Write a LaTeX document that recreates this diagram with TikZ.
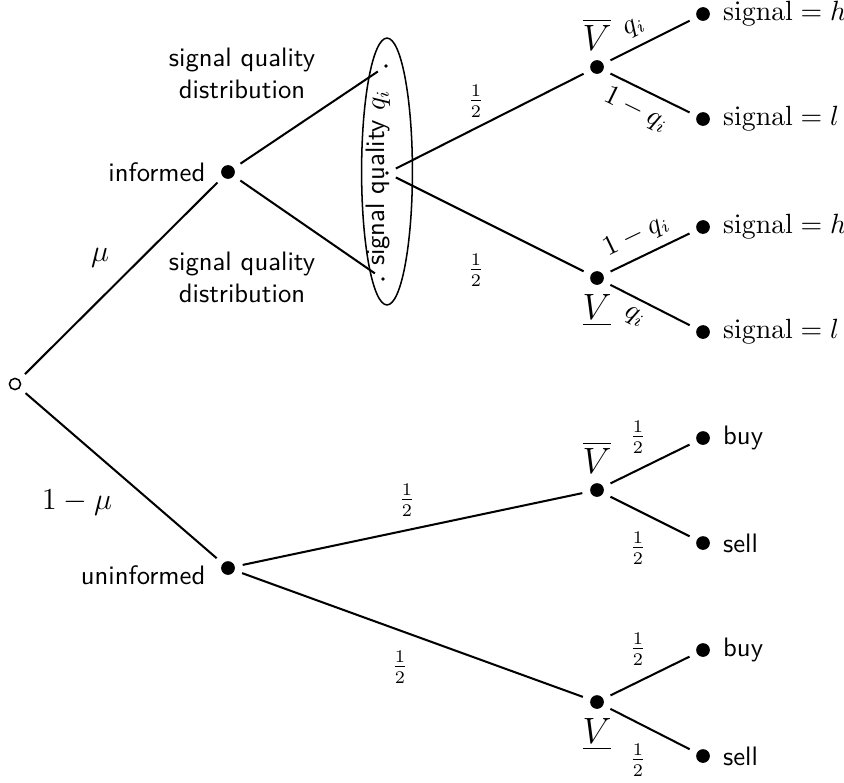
\documentclass[tikz,border=0pt]{standalone}
\usepackage{amsmath,amssymb}
\usetikzlibrary{shapes.geometric}

\begin{document}
\begin{tikzpicture}[x=1.383cm,y=-1.383cm,font=\sffamily\fontsize{10.5}{12.6}\selectfont,
  dot/.style={circle,fill,inner sep=0pt,minimum size=5.4pt},
  tiny/.style={circle,fill,inner sep=0pt,minimum size=1.4pt},
  start/.style={circle,draw,semithick,inner sep=0pt,minimum size=4.4pt},
  branch/.style={thick,shorten <=3pt,shorten >=3pt},
  leaf/.style={dot,label={[label distance=1.5pt]right:#1}}]

\useasboundingbox (0,0) rectangle (8.44,7.82);

% Nature's first move
\node[start] (root) at (0.15,3.84) {};
\node[dot,label={[label distance=2.5pt]left:informed}] (inf) at (2.28,1.72) {};
\node[dot,label={[label distance=2.5pt,yshift=-2.7pt]left:uninformed}] (uninf) at (2.28,5.68) {};
\draw[branch] (root) -- (inf);
\draw[branch] (root) -- (uninf);
\node at (1.00,2.58) {\large $\mu$};
\node at (0.77,5.03) {\large $1-\mu$};

% Information set
\node[ellipse,draw,semithick,minimum width=20pt,minimum height=105pt] (infoset) at (3.87,1.715) {};
\node[rotate=90] (qlabel) at (3.78,1.78) {signal quality $q_i$};
\node[tiny] (qtop) at (3.86,0.66) {};
\node[tiny] (qmid) at (3.87,1.73) {};
\node[tiny] (qbot) at (3.83,2.79) {};
\draw[branch] (inf) -- (qtop);
\draw[branch] (inf) -- (qbot);
\node[align=center] at (2.42,0.73) {signal quality\\distribution};
\node[align=center] at (2.42,2.77) {signal quality\\distribution};

% Value of the asset, informed
\node[dot,label={above:\Large $\overline{V}$}] (vhiI) at (5.97,0.67) {};
\node[dot,label={below:\Large $\underline{V}$}] (vloI) at (5.97,2.78) {};
\draw[branch] (qmid) -- (vhiI);
\draw[branch] (qmid) -- (vloI);
\node at (4.76,1.01) {$\frac12$};
\node at (4.76,2.70) {$\frac12$};

% Signals
\node[leaf={$\mathrm{signal}=h$}] (sigh1) at (7.03,0.14) {};
\node[leaf={$\mathrm{signal}=l$}] (sigl1) at (7.03,1.19) {};
\node[leaf={$\mathrm{signal}=h$}] (sigh2) at (7.03,2.27) {};
\node[leaf={$\mathrm{signal}=l$}] (sigl2) at (7.03,3.32) {};
\draw[branch] (vhiI) -- node[pos=.42,sloped,above] {$q_i$} (sigh1);
\draw[branch] (vhiI) -- node[pos=.45,sloped,below] {$1-q_i$} (sigl1);
\draw[branch] (vloI) -- node[pos=.45,sloped,above] {$1-q_i$} (sigh2);
\draw[branch] (vloI) -- node[pos=.42,sloped,below] {$q_i$} (sigl2);

% Value of the asset, uninformed
\node[dot,label={above:\Large $\overline{V}$}] (vhiU) at (5.97,4.90) {};
\node[dot,label={below:\Large $\underline{V}$}] (vloU) at (5.97,7.02) {};
\draw[branch] (uninf) -- (vhiU);
\draw[branch] (uninf) -- (vloU);
\node at (4.07,5.00) {$\frac12$};
\node at (4.00,6.67) {$\frac12$};

% Trades
\node[leaf=buy] (buy1) at (7.03,4.38) {};
\node[leaf=sell] (sell1) at (7.03,5.43) {};
\node[leaf=buy] (buy2) at (7.03,6.50) {};
\node[leaf=sell] (sell2) at (7.03,7.56) {};
\draw[branch] (vhiU) -- (buy1);
\draw[branch] (vhiU) -- (sell1);
\draw[branch] (vloU) -- (buy2);
\draw[branch] (vloU) -- (sell2);
\foreach \y in {4.37,5.48,6.49,7.60}
{
\node at (6.38,\y) {$\frac12$};
}

\end{tikzpicture}
\end{document}
